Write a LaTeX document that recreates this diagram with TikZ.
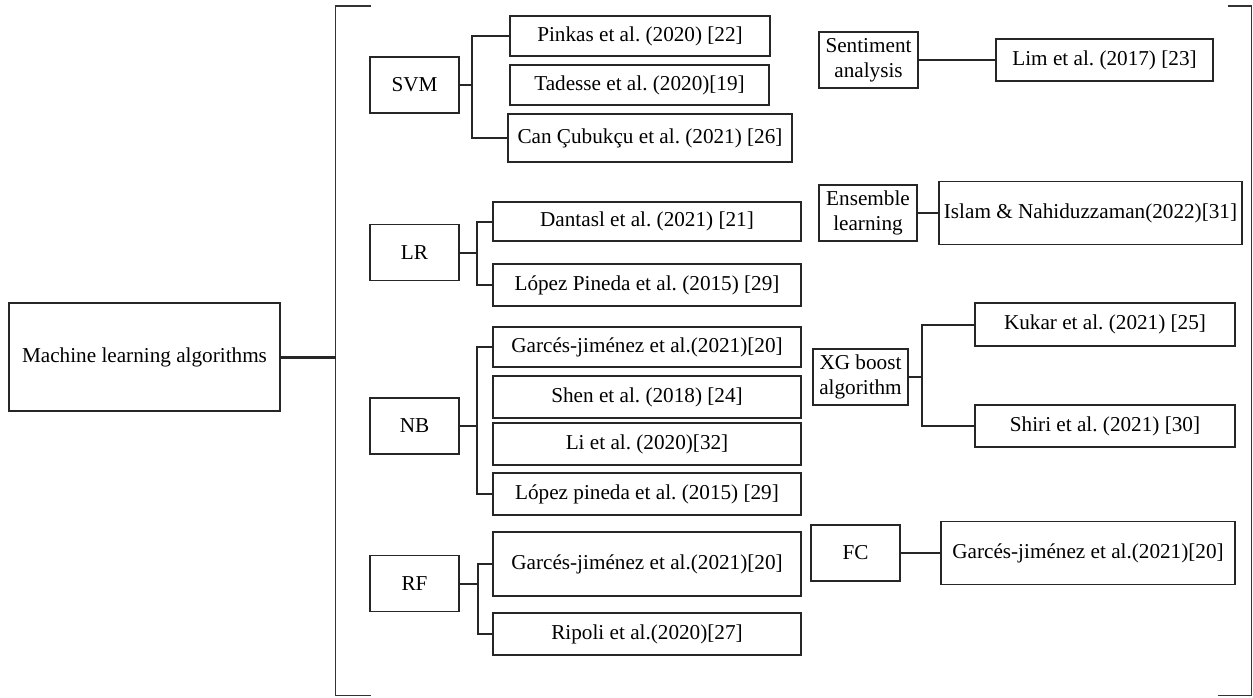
\documentclass[tikz,border=0pt]{standalone}
\usepackage{fontspec}
\setmainfont{Liberation Serif}
\frenchspacing
\tikzset{sz/.style 2 args={minimum width=#1*0.5pt,minimum height=#2*0.5pt}}
\begin{document}
\begin{tikzpicture}[x=0.5pt,y=-0.5pt,font=\fontsize{10.6}{12.5}\selectfont]
\tikzstyle{every node}+=[inner sep=0pt]
\tikzstyle{box}=[draw=black!85,line width=0.6pt,align=center]
\tikzstyle{link}=[draw=black!85,line width=1pt]
\useasboundingbox (0,0) rectangle (1253,697);
\node [box,sz={271}{108}] (ml) at (144.5,357) {Machine learning algorithms};
\coordinate (brk) at (335.7,357);
\draw [black!80,line width=0.6pt] (370.7,6) -- (335.7,6) -- (335.7,695.7) -- (370.7,695.7);
\draw [black!80,line width=0.6pt] (1227.7,6) -- (1251.5,6) -- (1251.5,695.7) -- (1218,695.7);
\draw [link,line width=1.5pt] (ml.east) -- (brk);
\node [box,sz={89}{56}] (svm) at (414.5,85) {SVM};
\node [box,sz={89}{56}] (lr) at (414.5,252.5) {LR};
\node [box,sz={89}{56}] (nb) at (414.5,426) {NB};
\node [box,sz={89}{56}] (rf) at (414.5,583.5) {RF};
\node [box,sz={260}{40}] (pinkas) at (640,36) {Pinkas et al. (2020) [22]};
\node [box,sz={259}{40}] (tadesse) at (639.5,85) {Tadesse et al. (2020)[19]};
\node [box,sz={284}{48}] (can) at (650,138) {Can Çubukçu et al. (2021) [26]};
\node [box,sz={308}{39}] (dantasl) at (647,221.5) {Dantasl et al. (2021) [21]};
\node [box,sz={308}{42}] (lopezA) at (647,285) {López Pineda et al. (2015) [29]};
\node [box,sz={308}{40}] (garcesA) at (647,347) {Garcés-jiménez et al.(2021)[20]};
\node [box,sz={308}{42}] (shen) at (647,397) {Shen et al. (2018) [24]};
\node [box,sz={308}{42}] (li) at (647,444) {Li et al. (2020)[32]};
\node [box,sz={308}{42}] (lopezB) at (647,494) {López pineda et al. (2015) [29]};
\node [box,sz={308}{64}] (garcesB) at (647,564) {Garcés-jiménez et al.(2021)[20]};
\node [box,sz={308}{42}] (ripoli) at (647,634) {Ripoli et al.(2020)[27]};
\node [box,sz={99}{56}] (senti) at (868.5,60) {Sentiment\\analysis};
\node [box,sz={217}{42}] (lim) at (1104.5,60) {Lim et al. (2017) [23]};
\node [box,sz={98}{56}] (ensem) at (868,213) {Ensemble\\learning};
\node [box,sz={303}{63}] (islam) at (1090.5,213) {Islam \& Nahiduzzaman(2022)[31]};
\node [box,sz={95}{56}] (xgb) at (860.5,377) {XG boost\\algorithm};
\node [box,sz={260}{43}] (kukar) at (1105,324.5) {Kukar et al. (2021) [25]};
\node [box,sz={260}{42}] (shiri) at (1105,426) {Shiri et al. (2021) [30]};
\node [box,sz={89}{56}] (fc) at (855.5,553) {FC};
\node [box,sz={294}{63}] (garcesC) at (1088,553) {Garcés-jiménez et al.(2021)[20]};
\draw [link] (svm.east) -- ++(12,0) |- (pinkas.west);
\draw [link] (svm.east) -- ++(12,0) |- (can.west);
\draw [link] (lr.east) -- ++(17,0) |- (dantasl.west);
\draw [link] (lr.east) -- ++(17,0) |- (lopezA.west);
\draw [link] (nb.east) -- ++(17.7,0) |- (garcesA.west);
\draw [link] (nb.east) -- ++(17.7,0) |- (lopezB.west);
\draw [link] (rf.east) -- ++(18,0) |- (garcesB.west);
\draw [link] (rf.east) -- ++(18,0) |- (ripoli.west);
\draw [link] (senti.east) -- (lim.west);
\draw [link] (ensem.east) -- (islam.west);
\draw [link] (xgb.east) -- ++(13.4,0) |- (kukar.west);
\draw [link] (xgb.east) -- ++(13.4,0) |- (shiri.west);
\draw [link] (fc.east) -- (garcesC.west);
\end{tikzpicture}
\end{document}
